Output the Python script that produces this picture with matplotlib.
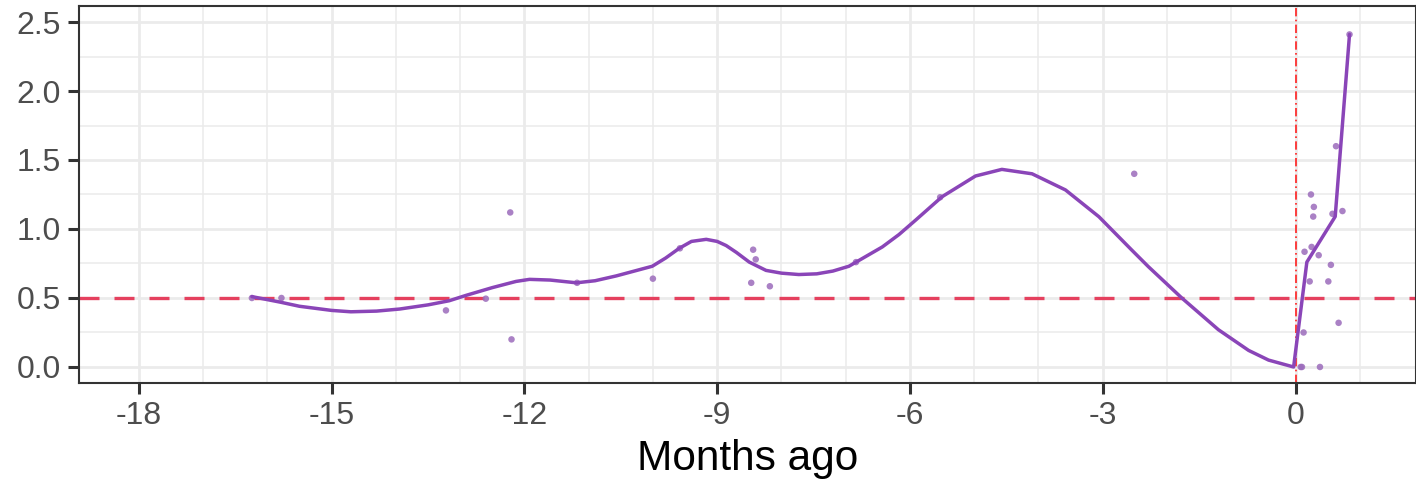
import numpy as np
import matplotlib
matplotlib.use('Agg')
import matplotlib.pyplot as plt
from matplotlib.ticker import MultipleLocator

plt.rcParams['font.family'] = ['Liberation Sans', 'DejaVu Sans']

# observed points (months ago, value)
pt_x = [-16.24, -15.78, -13.22, -12.60, -12.22, -12.20, -11.18, -10.00, -9.58,
        -8.44, -8.40, -8.47, -8.18, -6.84, -5.53, -2.51,
        0.84, 0.63, 0.24, 0.285, 0.275, 0.575, 0.73, 0.14, 0.25, 0.36,
        0.55, 0.22, 0.51, 0.67, 0.125, 0.10, 0.08, 0.38]
pt_y = [0.50, 0.50, 0.41, 0.495, 1.12, 0.20, 0.61, 0.64, 0.86,
        0.85, 0.78, 0.61, 0.585, 0.76, 1.23, 1.40,
        2.41, 1.60, 1.25, 1.16, 1.09, 1.11, 1.13, 0.835, 0.87, 0.81,
        0.74, 0.62, 0.62, 0.32, 0.25, 0.0, 0.0, 0.0]

# fitted trend line
fit_x = [-16.24, -15.8, -15.5, -15.0, -14.7, -14.3, -13.94, -13.5, -13.17, -12.9,
         -12.5, -12.13, -11.92, -11.6, -11.19, -10.9, -10.57, -10.01, -9.8, -9.59,
         -9.4, -9.17, -9.0, -8.86, -8.7, -8.5, -8.24, -8.0, -7.73, -7.45,
         -7.2, -6.95, -6.69, -6.43, -6.17, -5.91, -5.5, -4.98, -4.57, -4.10,
         -3.58, -3.06, -2.55, -2.29, -1.77, -1.2, -0.73, -0.42, -0.03,
         0.176, 0.617, 0.84]
fit_y = [0.51, 0.47, 0.44, 0.41, 0.40, 0.405, 0.42, 0.45, 0.48, 0.52,
         0.575, 0.62, 0.635, 0.63, 0.61, 0.625, 0.66, 0.73, 0.79, 0.86,
         0.91, 0.925, 0.91, 0.88, 0.83, 0.76, 0.70, 0.68, 0.67, 0.675,
         0.695, 0.73, 0.80, 0.87, 0.96, 1.065, 1.234, 1.384, 1.432, 1.40,
         1.283, 1.089, 0.848, 0.727, 0.50, 0.27, 0.12, 0.05, 0.0,
         0.76, 1.09, 2.41]

threshold = 0.5
xticks = [-18, -15, -12, -9, -6, -3, 0]
yticks = [0.0, 0.5, 1.0, 1.5, 2.0, 2.5]

fig = plt.figure(figsize=(14.16, 4.84), dpi=100)
ax = fig.add_axes([0.0558, 0.2087, 0.944, 0.7789])

ax.set_xlim(-18.93, 1.87)
ax.set_ylim(-0.116, 2.616)

ax.set_xticks(xticks)
ax.set_xticklabels([str(t) for t in xticks])
ax.set_yticks(yticks)
ax.set_yticklabels(['%.1f' % t for t in yticks])
ax.xaxis.set_minor_locator(MultipleLocator(1))
ax.yaxis.set_minor_locator(MultipleLocator(0.25))

ax.grid(which='major', color='#EBEBEB', linewidth=2.0, zorder=0)
ax.grid(which='minor', color='#EBEBEB', linewidth=1.1, zorder=0)
ax.set_axisbelow(True)

ax.tick_params(which='major', length=8, width=2.2, color='#333333',
               labelsize=23, labelcolor='#4D4D4D', pad=5)
ax.tick_params(which='minor', length=0)
for s in ax.spines.values():
    s.set_color('#333333')
    s.set_linewidth(1.5)

ax.axhline(threshold, color='#E5405E', linewidth=2.4, linestyle=(0, (6, 4.5)), zorder=2)
ax.axvline(0, color='#FF2020', linewidth=1.2, linestyle=(0, (5, 2, 1, 2)), zorder=2)

ax.scatter(pt_x, pt_y, s=22, color='#9B6BBB', alpha=0.85, edgecolors='none', zorder=3)
ax.plot(fit_x, fit_y, color='#8A45B8', linewidth=2.5, solid_joinstyle='round',
        solid_capstyle='round', zorder=4)

ax.set_xlabel('Months ago', fontsize=30.5, color='black', labelpad=6)

fig.savefig('out.png', dpi=100)
